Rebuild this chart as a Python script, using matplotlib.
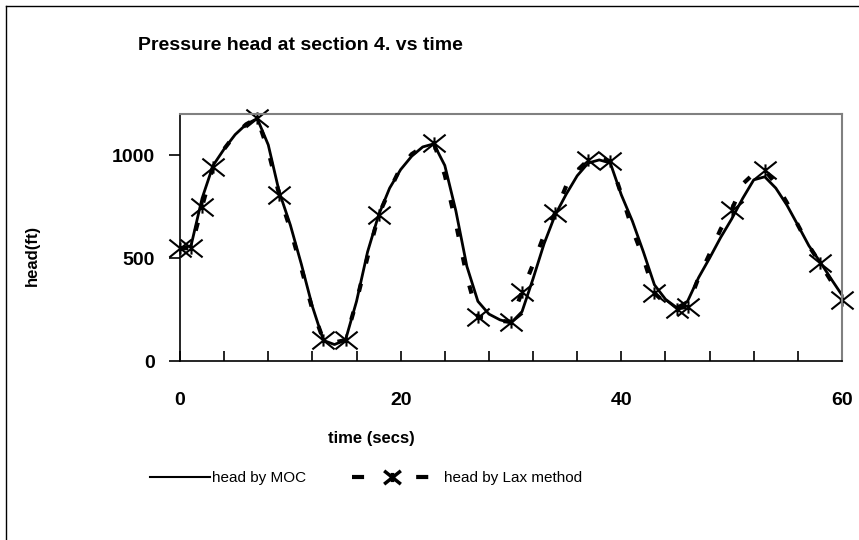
import matplotlib
matplotlib.use("Agg")
import matplotlib.pyplot as plt
from matplotlib.path import Path
from matplotlib.lines import Line2D

plt.rcParams['font.family'] = ['Liberation Sans', 'DejaVu Sans']

# MOC head, one reading per second
moc_t = list(range(0, 61))
moc_h = [548, 560, 790, 950, 1030, 1100, 1150, 1178, 1050, 820,
         661, 470, 265, 100, 80, 102, 290, 530, 709, 840,
         930, 995, 1040, 1055, 950, 730, 460, 290, 228, 200,
         185, 240, 400, 570, 709, 810, 900, 962, 977, 962,
         807, 680, 530, 370, 300, 260, 290, 405, 500, 600,
         690, 790, 880, 895, 840, 758, 660, 560, 483, 400,
         320]

# Lax method head, one reading per second
lax_t = list(range(0, 61))
lax_h = [548, 548, 750, 944, 1030, 1100, 1150, 1180, 1020, 807,
         640, 450, 250, 102, 90, 102, 290, 505, 709, 830,
         940, 1005, 1040, 1059, 904, 670, 410, 215, 210, 195,
         191, 337, 470, 612, 718, 850, 925, 977, 985, 970,
         810, 640, 500, 330, 280, 255, 264, 405, 520, 640,
         734, 860, 910, 928, 860, 770, 661, 560, 476, 390,
         296]
# seconds where the Lax curve carries a marker
lax_marked = [0, 1, 2, 3, 7, 9, 13, 15, 18, 23, 27, 30, 31, 34, 37, 39,
              43, 45, 46, 50, 53, 58, 60]

star = Path([(-1, -0.8), (1, 0.8), (-1, 0.8), (1, -0.8), (0, -0.55), (0, 0.55)],
            [Path.MOVETO, Path.LINETO, Path.MOVETO, Path.LINETO, Path.MOVETO, Path.LINETO])

fig = plt.figure(figsize=(8.59, 5.40), dpi=100)
ax = fig.add_axes([180 / 859, 1 - 361 / 540, 662 / 859, 247 / 540])

ax.plot(moc_t, moc_h, color='black', lw=2)
ax.plot(lax_t, lax_h, color='black', lw=3, dashes=(2, 5), dash_capstyle='butt',
        marker=star, markevery=[lax_t.index(t) for t in lax_marked],
        markersize=16, markeredgewidth=1.5, markeredgecolor='black', clip_on=False)

ax.set_xlim(0, 60)
ax.set_ylim(0, 1200)
ax.set_xticks([0, 20, 40, 60])
ax.set_xticks(range(0, 61, 4), minor=True)
ax.set_yticks([0, 500, 1000])
ax.tick_params(axis='x', which='both', direction='in', length=7, width=1.2,
               pad=22, labelsize=14)
ax.tick_params(axis='y', direction='out', length=8, width=1.2, pad=10, labelsize=14)
for lab in ax.get_xticklabels() + ax.get_yticklabels():
    lab.set_fontweight('bold')

for s in ['top', 'right']:
    ax.spines[s].set_color('#808080')
    ax.spines[s].set_linewidth(1.5)
for s in ['left', 'bottom']:
    ax.spines[s].set_color('black')
    ax.spines[s].set_linewidth(1.2)

fig.text(300 / 859, 1 - 45 / 540, "Pressure head at section 4. vs time",
         ha='center', va='center', fontsize=14, fontweight='bold')
fig.text(371 / 859, 1 - 438 / 540, "time (secs)", ha='center', va='center',
         fontsize=12, fontweight='bold')
fig.text(32 / 859, 1 - 255 / 540, "head(ft)", ha='center', va='center',
         rotation=90, fontsize=12, fontweight='bold')

# legend
h1 = Line2D([], [], color='black', lw=1.5)
h2 = Line2D([], [], color='black', lw=3, dashes=(2.9, 12.5), dash_capstyle='butt',
            marker=star, markersize=12, markeredgewidth=2.5, markeredgecolor='black')
fig.legend([h1], ["head by MOC"], loc='center left',
           bbox_to_anchor=(150 / 859, 1 - 478 / 540), frameon=False,
           handlelength=3.9, handletextpad=0.15, borderpad=0, borderaxespad=0,
           fontsize=11)
fig.legend([h2], ["head by Lax method"], loc='center left',
           bbox_to_anchor=(352 / 859, 1 - 478 / 540), frameon=False,
           handlelength=5.3, handletextpad=0.7, borderpad=0, borderaxespad=0,
           fontsize=11)

# outer chart border
fig.add_artist(Line2D([6 / 859, 6 / 859], [0, 1 - 6 / 540], transform=fig.transFigure,
                      color='black', lw=1))
fig.add_artist(Line2D([6 / 859, 1], [1 - 6 / 540, 1 - 6 / 540], transform=fig.transFigure,
                      color='black', lw=1))

fig.savefig("out.png", dpi=100)
